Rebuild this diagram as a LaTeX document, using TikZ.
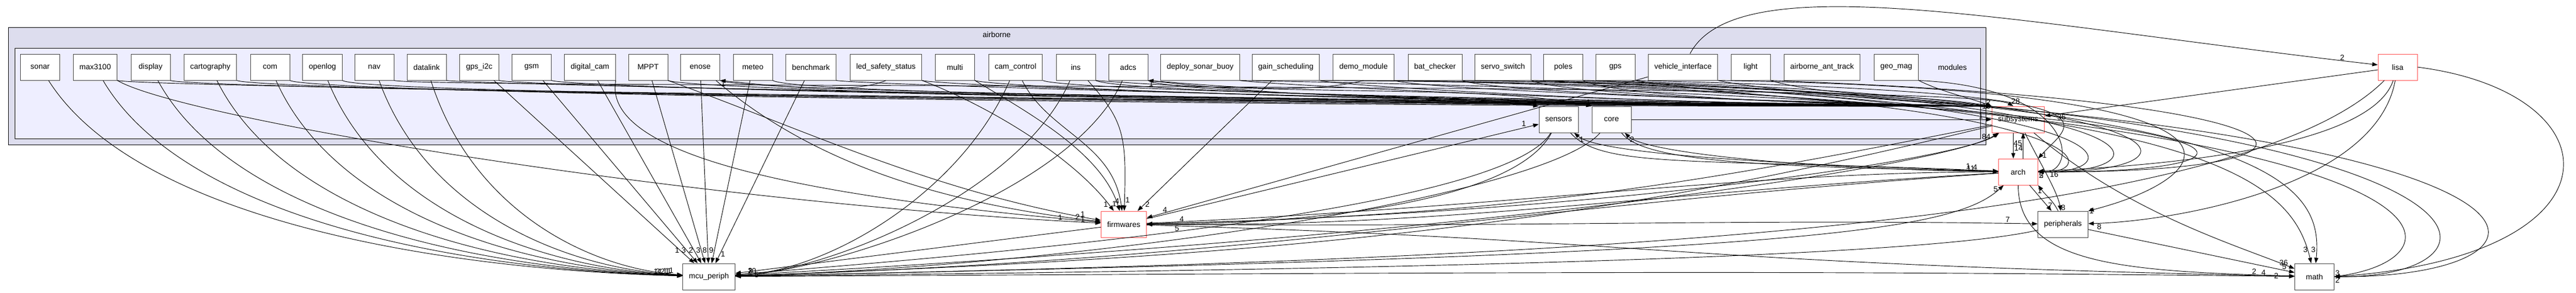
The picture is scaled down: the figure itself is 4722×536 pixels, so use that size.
\documentclass[tikz,border=0pt]{standalone}
\usepackage{fontspec}
\setmainfont{Liberation Sans}
\usetikzlibrary{arrows.meta,calc}

\definecolor{clusterout}{HTML}{DDDDEE}
\definecolor{clusterin}{HTML}{EEEEFF}
\definecolor{dirred}{HTML}{FF5050}
\newcommand\dirfont{\fontsize{10.5}{12}\selectfont}

\tikzset{
  dirbox/.style={draw=black!75, fill=white, line width=0.75pt, minimum width=54pt,
    minimum height=36pt, inner xsep=8.5pt, font=\dirfont},
  redbox/.style={dirbox, draw=dirred},
  dep/.style={-{Triangle[length=7.5pt,width=5.5pt]}, line width=0.7pt},
  lab/.style={font=\dirfont, inner sep=1pt},
}

\begin{document}
\begin{tikzpicture}[x=0.75pt, y=-0.75pt]
\useasboundingbox (0,0) rectangle (4722,536);

% clusters
\draw[fill=clusterout, line width=0.75pt] (15,50) rectangle (3640,265);
\node[font=\dirfont] (airborne) at (1827,63) {airborne};
\draw[fill=clusterin, line width=0.75pt] (27,88) rectangle (3630,254);
\node[font=\dirfont] (modules) at (3579,123) {modules};

% first row of modules
\foreach \n/\txt/\x in {sonar/sonar/73.5, max3100/max3100/174.5, display/display/276,
  cartography/cartography/385.5, com/com/495, openlog/openlog/591, nav/nav/686,
  datalink/datalink/782, gps_i2c/gps\_i2c/878.5, gsm/gsm/974.5,
  digital_cam/digital\_cam/1081.5, MPPT/MPPT/1188, enose/enose/1283.5,
  meteo/meteo/1380, benchmark/benchmark/1486.5,
  led_safety_status/led\_safety\_status/1624, multi/multi/1750.5,
  cam_control/cam\_control/1861.5, ins/ins/1972, adcs/adcs/2068,
  deploy_sonar_buoy/deploy\_sonar\_buoy/2200, gain_scheduling/gain\_scheduling/2357,
  demo_module/demo\_module/2499.5, bat_checker/bat\_checker/2630.5,
  servo_switch/servo\_switch/2755, poles/poles/2865.5, gps/gps/2961,
  vehicle_interface/vehicle\_interface/3085, light/light/3209,
  airborne_ant_track/airborne\_ant\_track/3340, geo_mag/geo\_mag/3476}
  \node[dirbox] (\n) at (\x,123) {\txt};

% second row
\node[dirbox] (sensors) at (2857,219) {sensors};
\node[dirbox] (core) at (2954,219) {core};

% outside the cluster
\node[redbox] (subsystems) at (3699.5,219) {subsystems};
\node[redbox] (arch) at (3699.5,315) {arch};
\node[redbox] (firmwares) at (2060,411) {firmwares};
\node[dirbox] (peripherals) at (3781.5,411) {peripherals};
\node[dirbox] (mcu_periph) at (1299.5,507) {mcu\_periph};
\node[dirbox] (math) at (4242.5,507) {math};
\node[redbox] (lisa) at (4395,123) {lisa};

% into mcu_periph
\foreach \n/\x/\l in {sonar/73.5/1, max3100/174.5/3, display/276/1, cartography/385.5/2,
  com/495/1, openlog/591/1, nav/686/1, datalink/782/1}{
  \pgfmathsetmacro\dx{0.45*(1251-\x)}
  \pgfmathsetmacro\cx{0.12*(1251-\x)+30}
  \draw[dep] (\n) .. controls +(\cx,270) and +(-\dx,-14) .. (mcu_periph)
    node[lab, pos=0.97, above left]{\l};
}
\foreach \n/\l in {gps_i2c/1, gsm/3, digital_cam/2, MPPT/3, enose/8, meteo/9}
  \draw[dep] (\n) -- (mcu_periph) node[lab, pos=0.93, left]{\l};
\draw[dep] (benchmark) -- (mcu_periph) node[lab, pos=0.95, right]{1};
\foreach \n/\l in {cam_control/10, ins/3, adcs/2}
  \draw[dep] (\n) .. controls +(-100,230) and +(220,-10) .. (mcu_periph)
    node[lab, pos=0.96, above right]{\l};

% into firmwares
\draw[dep] (max3100.south east) .. controls +(120,70) and +(-800,-40) .. (firmwares)
  node[lab, pos=0.97, above left]{1};
\draw[dep] (digital_cam.south east) .. controls +(-30,160) and +(-450,-40) .. (firmwares)
  node[lab, pos=0.97, above left]{2};
\draw[dep] (MPPT.south east) .. controls +(250,90) and +(-350,-60) .. (firmwares)
  node[lab, pos=0.97, above left]{1};
\draw[dep] (enose) .. controls +(200,170) and +(-350,-40) .. (firmwares)
  node[lab, pos=0.97, left]{1};
\draw[dep] (led_safety_status.south east) .. controls +(130,50) and +(-90,-120) .. (firmwares)
  node[lab, pos=0.96, left]{1};
\draw[dep] (multi.south east) .. controls +(100,60) and +(-40,-130) .. (firmwares)
  node[lab, pos=0.96, left]{1};
\draw[dep] (cam_control) .. controls +(60,120) and +(-20,-150) .. (firmwares)
  node[lab, pos=0.95, left]{4};
\draw[dep] (ins) .. controls +(90,100) and +(5,-160) .. (firmwares)
  node[lab, pos=0.95, right]{1};
\draw[dep] (gain_scheduling) -- (firmwares) node[lab, pos=0.95, right]{2};
\draw[dep] (vehicle_interface) -- (firmwares) node[lab, pos=0.97, above right]{4};

% into subsystems along the top
\foreach \n [count=\i] in {max3100, display, cartography, com, openlog, datalink, gps_i2c,
  gsm, MPPT, enose, meteo, benchmark, led_safety_status, multi, cam_control, ins, adcs,
  deploy_sonar_buoy, gain_scheduling, demo_module, bat_checker, servo_switch, poles, gps,
  vehicle_interface}
  \draw[dep] (\n.south east) .. controls +(50,{8+4*mod(\i,6)}) and
    ($(\n.south east)!0.6!(subsystems.north west)+(0,{10+3*mod(\i,5)})$) .. (subsystems.north west);
\draw[dep] (nav.south east) .. controls +(60,15) and +(-80,-45) .. (subsystems.110)
  node[lab, pos=0.985, above right]{28};
\draw[dep] (light.south east) .. controls +(100,30) and +(-120,-20) .. (subsystems.north west)
  node[lab, pos=1, above left]{2};
\draw[dep] (geo_mag.south east) .. controls +(40,20) and +(-40,-15) .. (subsystems.north west)
  node[lab, pos=1, left]{10};

% round the right of subsystems into arch
\foreach \n/\xr/\l in {demo_module/3860/2, bat_checker/3920/, servo_switch/3990/,
  poles/4060/, deploy_sonar_buoy/4250/5, light/4330/, geo_mag/3810/}
  \draw[dep] (\n.south east) .. controls (\xr,{160+(\xr-3800)/20}) and (\xr,318) .. (arch.east)
    node[lab, pos=1, below right]{\l};
\draw[dep] (gps.south east) .. controls (3930,170) and (3800,220) .. (arch.north east)
  node[lab, pos=0.97, right]{1};

% round the right into math
\draw[dep] (bat_checker.south east) .. controls (4650,170) and (4650,510) .. (math.east)
  node[lab, pos=1, above right]{3};
\draw[dep] (gain_scheduling.south east) .. controls (4800,160) and (4800,510) .. (math.east)
  node[lab, pos=1, below right]{2};
\draw[dep] (demo_module.south east) .. controls (4550,190) and (4550,470) .. (math.east);
\draw[dep] (lisa.east) .. controls (4800,170) and (4820,470) .. (math.east);
\foreach \n/\ax/\bx/\l in {servo_switch/4050/4200/3, poles/4150/4260/3}
  \draw[dep] (\n.south east) .. controls (\ax,190) and (\bx,330) .. (math)
    node[lab, pos=0.96, above left]{\l};

% smaller ones inside the cluster
\draw[dep] (adcs.south east) .. controls +(350,40) and +(-250,-25) .. (sensors.north west)
  node[lab, pos=1, above left]{1};
\draw[dep] (ins.south east) .. controls +(400,30) and +(-200,-40) .. (core.north west)
  node[lab, pos=1, above left]{1};
\draw[dep] (led_safety_status.south) .. controls +(-60,25) and +(120,12) .. (enose.south east)
  node[lab, pos=1, below right]{1};
\draw[dep] (demo_module.south) .. controls +(-100,25) and +(150,12) .. (adcs.south east)
  node[lab, pos=1, below right]{1};
\draw[dep] (vehicle_interface.south east) .. controls (4250,165) and (4050,330) .. (peripherals.north east)
  node[lab, pos=1, right]{1};

% between the hubs
\draw[dep] ($(subsystems.south)+(-9,0)$) -- ($(arch.north)+(-9,0)$) node[lab, pos=0.6, right]{14};
\draw[dep] ($(arch.north)+(9,0)$) -- ($(subsystems.south)+(9,0)$) node[lab, pos=0.6, left]{45};
\draw[dep] (subsystems) .. controls +(40,80) and +(-10,-60) .. (peripherals) node[lab, pos=0.95, right]{8};
\draw[dep] (arch) -- (peripherals) node[lab, pos=0.8, right]{7};
\draw[dep] (peripherals.110) .. controls +(-10,-20) and +(15,20) .. (arch.south east)
  node[lab, pos=0.8, left]{1};
\draw[dep] (lisa) -- (subsystems) node[lab, pos=0.95, below]{36};
\draw[dep] (lisa) .. controls +(-50,150) and +(250,-10) .. (arch) node[lab, pos=0.97, below right]{16};
\draw[dep] (lisa) .. controls +(-40,220) and +(200,-5) .. (peripherals) node[lab, pos=0.97, below right]{8};
\draw[dep] (lisa) .. controls +(-300,300) and +(1500,-30) .. (mcu_periph);
\draw[dep] (firmwares) .. controls +(900,-20) and +(-100,70) .. (subsystems) node[lab, pos=0.95, left]{84};
\draw[dep] (mcu_periph) .. controls +(1500,-80) and +(-120,80) .. (subsystems);
\draw[dep] (firmwares) .. controls +(700,-30) and +(-500,0) .. (arch) node[lab, pos=0.97, above left]{11};
\draw[dep] (core) .. controls +(60,80) and +(-450,-10) .. (arch) node[lab, pos=0.97, above left]{4};
\draw[dep] (sensors) .. controls +(80,90) and +(-600,-25) .. (arch) node[lab, pos=0.97, above left]{1};
\draw[dep] (arch) .. controls +(-500,-15) and +(70,60) .. (sensors) node[lab, pos=0.95, below right]{1};
\draw[dep] (arch) .. controls +(-400,-5) and +(60,60) .. (core) node[lab, pos=0.95, below right]{2};
\draw[dep] (core) -- (subsystems) node[lab, pos=0.97, above]{1};
\draw[dep] (firmwares) -- (sensors) node[lab, pos=0.97, above left]{1};
\draw[dep] (sensors) .. controls +(-100,170) and +(500,-40) .. (mcu_periph);
\draw[dep] (sensors) .. controls +(-80,150) and +(350,0) .. (firmwares);
\draw[dep] (core) .. controls +(-120,140) and +(700,-20) .. (mcu_periph);
\draw[dep] (subsystems) .. controls +(200,170) and +(-150,-60) .. (math) node[lab, pos=0.97, above left]{36};
\draw[dep] (arch) .. controls +(0,170) and +(-350,-10) .. (math) node[lab, pos=0.97, left]{2};
\draw[dep] (peripherals) -- (math) node[lab, pos=0.95, above]{5};
\draw[dep] (peripherals) .. controls +(-300,70) and +(900,-10) .. (mcu_periph);
\draw[dep] (mcu_periph) .. controls +(2000,-40) and +(-120,110) .. (arch) node[lab, pos=0.97, left]{5};
\draw[dep] (firmwares) -- (mcu_periph) node[lab, pos=0.95, below right]{5};
\draw[dep] (mcu_periph) .. controls +(1800,-10) and +(-900,-10) .. (math) node[lab, pos=0.98, above left]{4};
\draw[dep] (arch) .. controls +(-900,60) and +(1000,-30) .. (mcu_periph);
\draw[dep] (subsystems) .. controls +(-700,170) and +(1200,-40) .. (mcu_periph);
\draw[dep] (subsystems) .. controls +(-600,120) and +(700,-15) .. (firmwares) node[lab, pos=0.97, above right]{4};
\draw[dep] (arch) .. controls +(-700,40) and +(600,5) .. (firmwares) node[lab, pos=0.97, below right]{5};
\draw[dep] (firmwares) .. controls +(800,5) and +(-600,-10) .. (peripherals) node[lab, pos=0.97, above left]{7};
\draw[dep] (firmwares) .. controls +(1000,30) and +(-1200,-25) .. (math) node[lab, pos=0.98, above left]{2};

% over the top to lisa
\draw[dep] (vehicle_interface) .. controls +(100,-190) and +(-700,-80) .. (lisa)
  node[lab, pos=0.97, above left]{2};
\end{tikzpicture}
\end{document}
